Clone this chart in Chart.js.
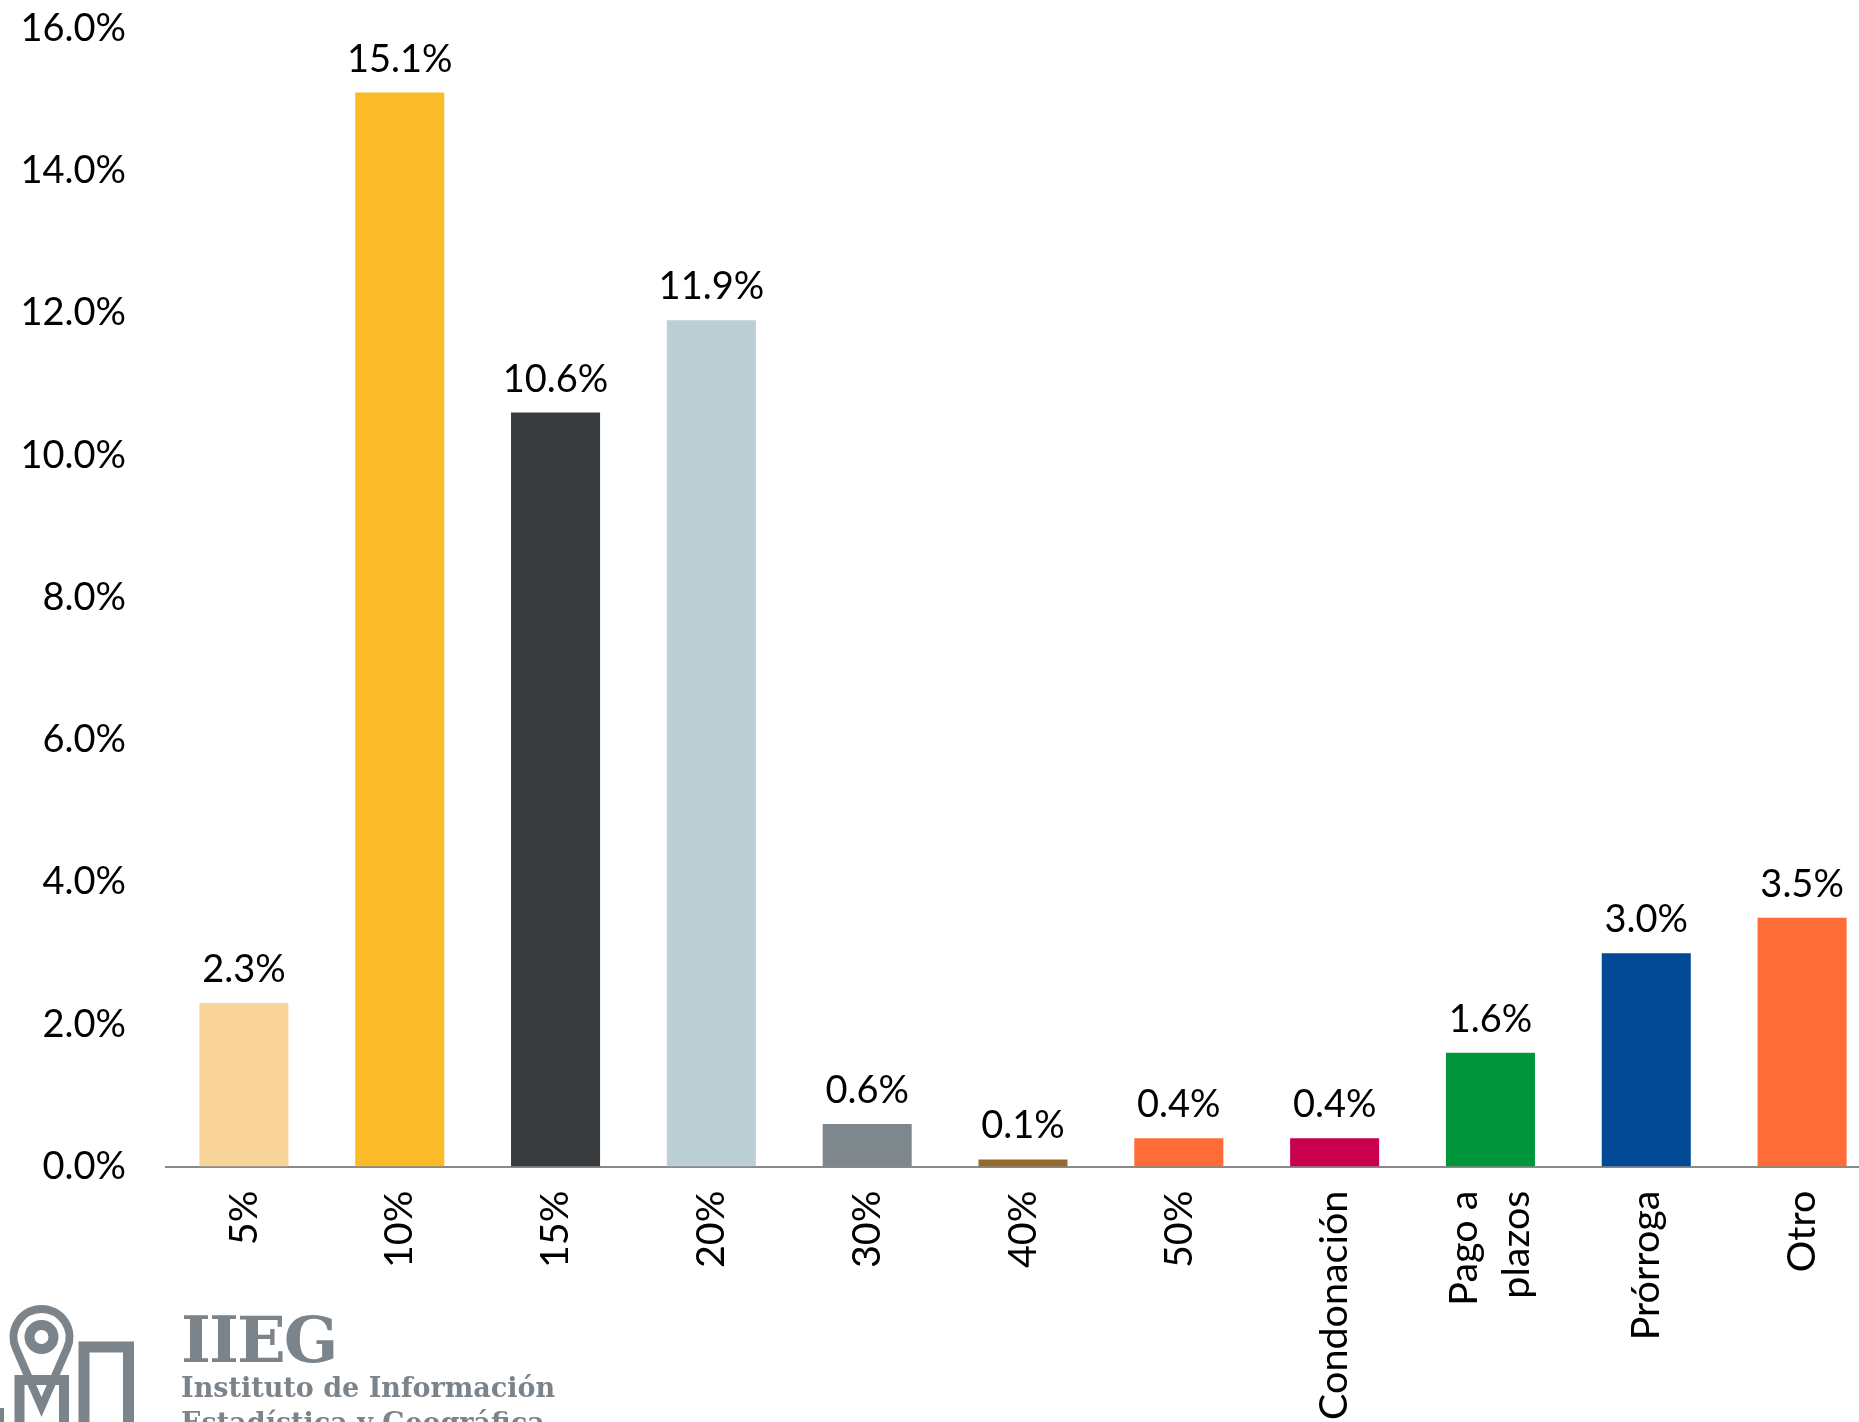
<!DOCTYPE html>
<html>
<head>
<meta charset="utf-8">
<script src="https://cdn.jsdelivr.net/npm/chart.js@4.4.1/dist/chart.umd.min.js"></script>
<style>
  html, body { margin: 0; padding: 0; background: #fff; overflow: hidden; width: 1859px; height: 1422px; }
  #marco { position: absolute; left: 0; top: 0; width: 1886px; height: 1422px; }
  .logo-txt { position: absolute; color: #7c848b; white-space: nowrap; }
  #siglas { left: 181px; top: 1308px; font: bold 64px/64px "DejaVu Serif"; letter-spacing: -2px; }
  #nombre1 { left: 181px; top: 1374px; font: bold 27px/27px "DejaVu Serif"; }
  #nombre2 { left: 181px; top: 1409px; font: bold 27px/27px "DejaVu Serif"; }
</style>
</head>
<body>
<div id="marco"><canvas id="grafica"></canvas></div>

<svg width="140" height="132" style="position:absolute;left:0;top:1290px" fill="none" stroke="#7c848b">
  <path d="M41.5 117 L15.84 58.2 A28 28 0 1 1 67.16 58.2 Z" stroke-width="8" stroke-linejoin="miter"/>
  <circle cx="41.5" cy="47" r="12" stroke-width="10"/>
  <path d="M19.5 140 L19.5 90 L64 90 L64 140" stroke-width="10"/>
  <path d="M84 140 L84 57 L128.5 57 L128.5 140" stroke-width="11"/>
  <rect x="0" y="118" width="4" height="14" fill="#7c848b" stroke="none"/>
</svg>
<div class="logo-txt" id="siglas">IIEG</div>
<div class="logo-txt" id="nombre1">Instituto de Información</div>
<div class="logo-txt" id="nombre2">Estadística y Geográfica</div>

<script>
// datos
var CATEGORIAS = ['5%', '10%', '15%', '20%', '30%', '40%', '50%', 'Condonación', ['Pago a', 'plazos'], 'Prórroga', 'Otro'];
var PORCENTAJES = [2.3, 15.1, 10.6, 11.9, 0.6, 0.1, 0.4, 0.4, 1.6, 3.0, 3.5];
var COLORES = ['#F9D498', '#FBBA28', '#393C3F', '#BCCFD5', '#7E878C', '#956A2C', '#FF6C37', '#C8004D', '#00963B', '#034A96', '#FF6C37'];
var EJE_Y_MAX = 16;
var EJE_Y_PASO = 2;

var FUENTE = 'Lato';
var TAM = 38;
var TAM_X = 39.5;

// etiquetas de valor sobre cada barra
var etiquetasValor = {
  id: 'etiquetasValor',
  afterDatasetsDraw: function(chart) {
    var ctx = chart.ctx;
    var meta = chart.getDatasetMeta(0);
    ctx.save();
    ctx.font = TAM + 'px ' + FUENTE;
    ctx.fillStyle = '#000';
    ctx.textAlign = 'center';
    ctx.textBaseline = 'alphabetic';
    meta.data.forEach(function(barra, i) {
      ctx.fillText(PORCENTAJES[i].toFixed(1) + '%', barra.x, barra.y - 21);
    });
    ctx.restore();
  }
};

// centra las etiquetas de dos renglones sobre su barra
var centrarMultilinea = {
  id: 'centrarMultilinea',
  beforeDraw: function(chart) {
    var escala = chart.scales.x;
    var items = escala.getLabelItems();
    items.forEach(function(item) {
      if (Array.isArray(item.label) && !item._movido) {
        item.options.translation[0] -= item.font.lineHeight / 2;
        item._movido = true;
      }
    });
  }
};

new Chart(document.getElementById('grafica'), {
  type: 'bar',
  data: {
    labels: CATEGORIAS,
    datasets: [{
      data: PORCENTAJES,
      backgroundColor: COLORES,
      borderWidth: 0,
      barPercentage: 0.5714,
      categoryPercentage: 1.0
    }]
  },
  options: {
    responsive: true,
    maintainAspectRatio: false,
    animation: false,
    layout: { padding: { top: 0, right: 6, left: 0, bottom: 0 } },
    plugins: {
      legend: { display: false },
      tooltip: { enabled: false }
    },
    scales: {
      x: {
        grid: { display: false, drawTicks: false },
        border: { display: true, color: '#898989', width: 2 },
        afterFit: function(s) { s.height = 255.4; },
        ticks: {
          color: '#000',
          autoSkip: false,
          minRotation: 90,
          maxRotation: 90,
          padding: 24,
          font: { family: FUENTE, size: TAM_X, lineHeight: 1.32 }
        }
      },
      y: {
        min: 0,
        max: EJE_Y_MAX,
        grid: { display: false, drawTicks: false },
        border: { display: false },
        afterFit: function(s) {
          s.width = 166;
          s.paddingTop = 28.5;
          s.paddingBottom = 0;
        },
        ticks: {
          stepSize: EJE_Y_PASO,
          color: '#000',
          padding: 40,
          font: { family: FUENTE, size: TAM },
          callback: function(v) { return v.toFixed(1) + '%'; }
        }
      }
    }
  },
  plugins: [etiquetasValor, centrarMultilinea]
});
</script>
</body>
</html>
